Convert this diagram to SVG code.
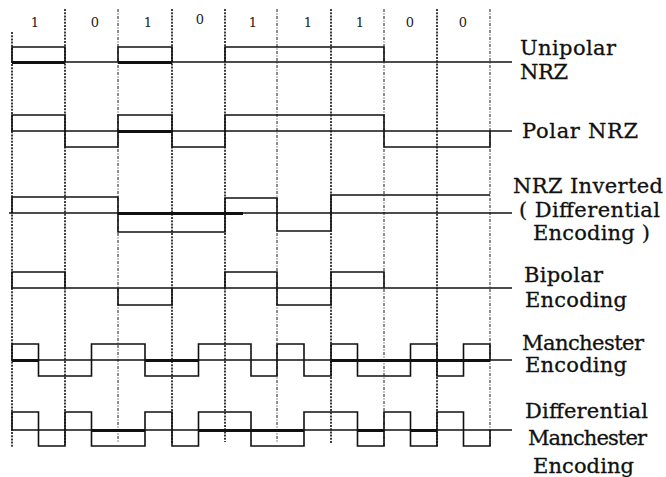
<svg xmlns="http://www.w3.org/2000/svg" width="666" height="477" viewBox="0 0 666 477">
<style>
.grid{stroke:#2a2a2a;stroke-width:1.8;stroke-dasharray:2 1.2;fill:none}
.gridt{stroke:#444;stroke-width:1.2;stroke-dasharray:3 1.5 1 1.5;fill:none}
.base{stroke:#111;stroke-width:1.4;fill:none}
.wave{stroke:#111;stroke-width:1.6;fill:none;stroke-linejoin:miter}
.thick{stroke:#111;stroke-width:3.2;fill:none}
.bit{font-family:"DejaVu Serif","Liberation Serif",serif;font-size:13px;fill:#222;text-anchor:middle}
.lbl{font-family:"DejaVu Serif","Liberation Serif",serif;font-size:21px;fill:#111;stroke:#111;stroke-width:0.3}
</style>
<rect width="666" height="477" fill="#fff"/>
<g id="grid">
<line class="grid" x1="12" y1="32" x2="12" y2="447"/>
<line class="grid" x1="65" y1="9" x2="65" y2="445"/>
<line class="gridt" x1="118" y1="9" x2="118" y2="443"/>
<line class="grid" x1="172" y1="9" x2="172" y2="444"/>
<line class="grid" x1="225" y1="9" x2="225" y2="442"/>
<line class="gridt" x1="277" y1="9" x2="277" y2="442"/>
<line class="grid" x1="331" y1="9" x2="331" y2="444"/>
<line class="gridt" x1="384" y1="9" x2="384" y2="447"/>
<line class="grid" x1="437" y1="9" x2="437" y2="447"/>
<line class="gridt" x1="490" y1="9" x2="490" y2="447"/>
</g>
<g id="bits">
<text class="bit" x="35" y="27">1</text>
<text class="bit" x="95" y="27">0</text>
<text class="bit" x="148" y="27">1</text>
<text class="bit" x="200" y="24">0</text>
<text class="bit" x="253" y="27">1</text>
<text class="bit" x="308" y="27">1</text>
<text class="bit" x="360" y="27">1</text>
<text class="bit" x="410" y="27">0</text>
<text class="bit" x="463" y="27">0</text>
</g>
<g id="connectors">
<line class="base" x1="11" y1="62" x2="512" y2="62"/>
<line class="base" x1="11" y1="131" x2="512" y2="131"/>
<line class="base" x1="9" y1="213" x2="512" y2="213"/>
<line class="base" x1="11" y1="288" x2="512" y2="288"/>
<line class="base" x1="11" y1="360" x2="512" y2="360"/>
<line class="base" x1="11" y1="430" x2="512" y2="430"/>
</g>
<g id="unipolar-nrz">
<path class="wave" d="M12,62 V47 H65 V62 M118,62 V47 H172 V62 M225,62 V47 H384 V62"/>
<path class="thick" d="M12,62.5 H65 M118,62.5 H172"/>
<text class="lbl" x="520" y="55" textLength="96" lengthAdjust="spacing">Unipolar</text>
<text class="lbl" x="520" y="79" textLength="48" lengthAdjust="spacing">NRZ</text>
</g>
<g id="polar-nrz">
<path class="wave" d="M12,131 V115 H65 V147 H118 V115 H172 V147 H225 V115 H384 V147 H490 V131"/>
<path class="thick" d="M118,131.5 H172"/>
<text class="lbl" x="522" y="138" textLength="116" lengthAdjust="spacing">Polar NRZ</text>
</g>
<g id="nrz-inverted">
<path class="wave" d="M12,213 V197 H118 V232 H225 V198 H277 V231 H331 V195 H490"/>
<path class="thick" d="M118,213.5 H243"/>
<text class="lbl" x="513" y="193" textLength="150" lengthAdjust="spacing">NRZ Inverted</text>
<text class="lbl" x="519" y="217" textLength="141" lengthAdjust="spacing">( Differential</text>
<text class="lbl" x="533" y="240" textLength="117" lengthAdjust="spacing">Encoding )</text>
</g>
<g id="bipolar">
<path class="wave" d="M12,288 V272 H65 V288 M118,288 V305 H172 V288 M225,288 V272 H277 V305 H331 V272 H384 V288"/>
<text class="lbl" x="524" y="282" textLength="79" lengthAdjust="spacing">Bipolar</text>
<text class="lbl" x="525" y="307" textLength="102" lengthAdjust="spacing">Encoding</text>
</g>
<g id="manchester">
<path class="wave" d="M12,360 V344 H38.5 V376 H91.5 V344 H145 V376 H198.5 V344 H251 V376 H277 V344 H304 V376 H331 V344 H357.5 V376 H410.5 V344 H437 V376 H463.5 V344 H490 V360"/>
<path class="thick" d="M12,360.5 H38.5 M145,360.5 H198.5 M331,360.5 H490"/>
<text class="lbl" x="522" y="350" textLength="122" lengthAdjust="spacing">Manchester</text>
<text class="lbl" x="525" y="372" textLength="102" lengthAdjust="spacing">Encoding</text>
</g>
<g id="differential-manchester">
<path class="wave" d="M12,430 V412 H38.5 V446 H65 V412 H91.5 V446 H145 V412 H172 V446 H198.5 V412 H251 V446 H304 V412 H357.5 V446 H384 V412 H410.5 V446 H437 V412 H463.5 V446 H490 V430"/>
<path class="thick" d="M91.5,430.5 H145 M198.5,430.5 H304 M357.5,430.5 H384 M410.5,430.5 H437"/>
<text class="lbl" x="525" y="418" textLength="123" lengthAdjust="spacing">Differential</text>
<text class="lbl" x="528" y="445" textLength="119" lengthAdjust="spacing">Manchester</text>
<text class="lbl" x="533" y="473" textLength="101" lengthAdjust="spacing">Encoding</text>
</g>
</svg>
